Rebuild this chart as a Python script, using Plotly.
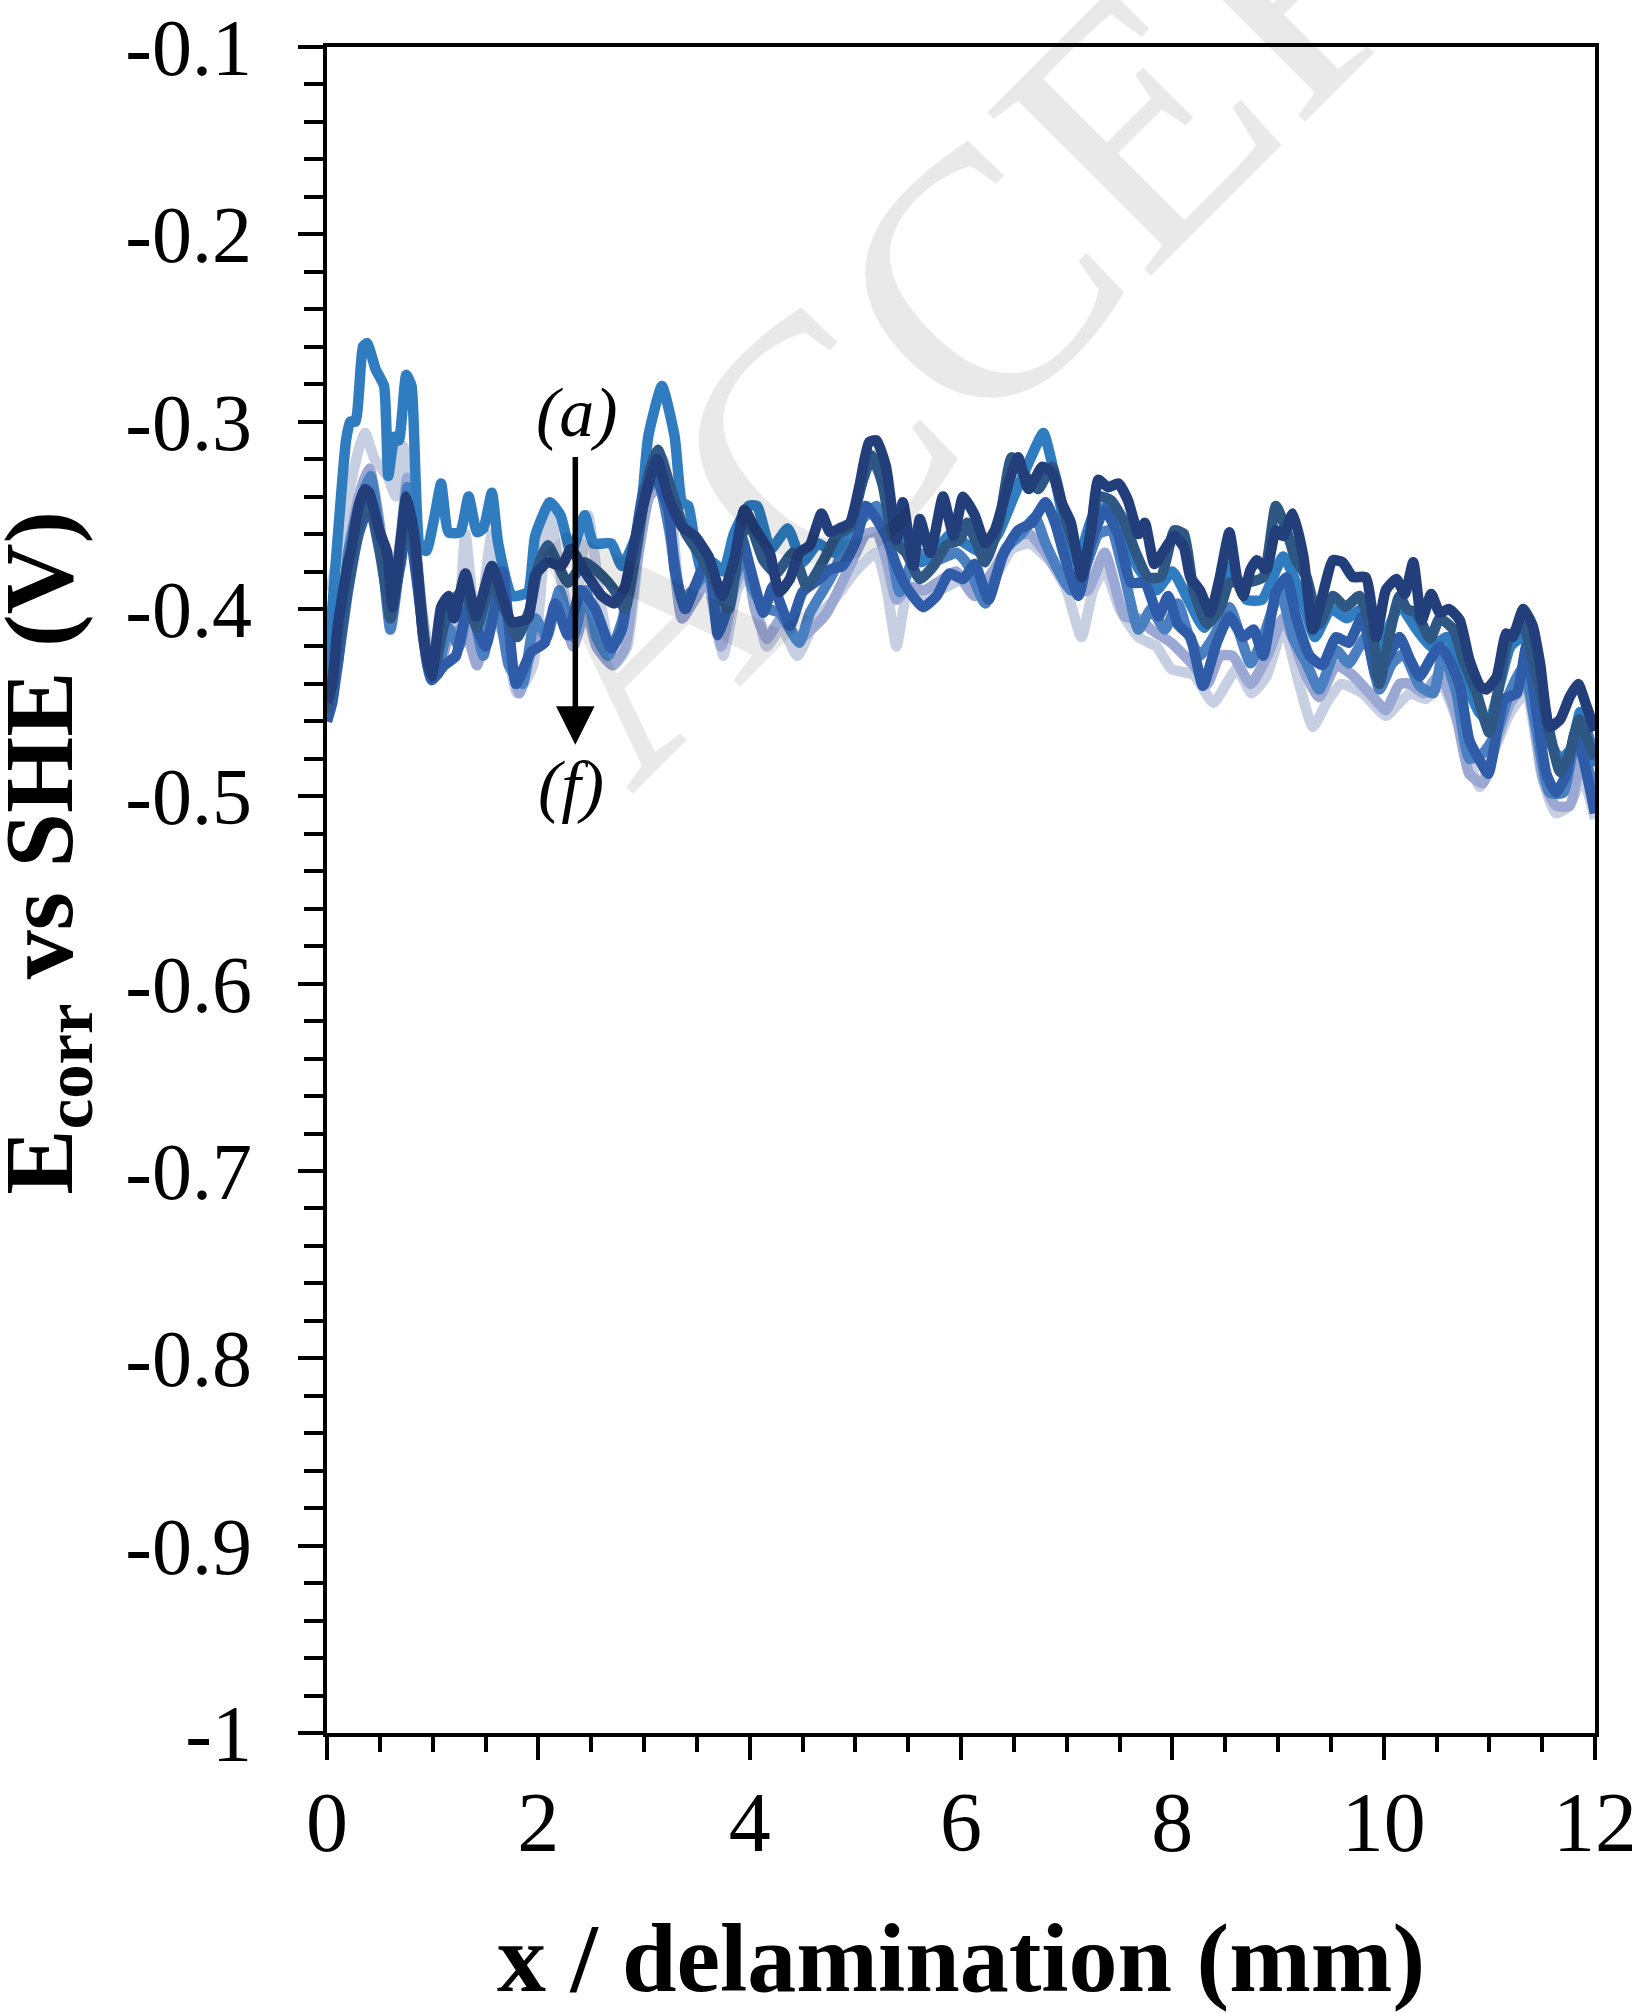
import plotly.graph_objects as go

# ---- tick labels -------------------------------------------------------
x_tick_vals = [0, 2, 4, 6, 8, 10, 12]
x_tick_text = ["0", "2", "4", "6", "8", "10", "12"]
y_tick_vals = [-1.0, -0.9, -0.8, -0.7, -0.6, -0.5, -0.4, -0.3, -0.2, -0.1]
y_tick_text = ["-1", "-0.9", "-0.8", "-0.7", "-0.6", "-0.5", "-0.4", "-0.3", "-0.2", "-0.1"]

# ---- corrosion potential profiles (x in mm, E in V vs SHE) -------------
light_x = [0.0, 0.05, 0.1, 0.2, 0.3, 0.36, 0.45, 0.58, 0.65, 0.72,
           0.8, 0.9, 1.0, 1.12, 1.25, 1.31, 1.42, 1.56, 1.65, 1.8,
           1.95, 2.1, 2.2, 2.33, 2.47, 2.6, 2.72, 2.84, 2.95, 3.08,
           3.18, 3.28, 3.36, 3.5, 3.62, 3.75, 3.88, 4.0, 4.16, 4.3,
           4.45, 4.63, 4.8, 5.0, 5.2, 5.3, 5.39, 5.5, 5.65, 5.8,
           6.0, 6.13, 6.3, 6.48, 6.65, 6.85, 7.0, 7.14, 7.25, 7.36,
           7.5, 7.68, 7.85, 7.99, 8.2, 8.39, 8.61, 8.75, 8.89, 9.05,
           9.2, 9.33, 9.46, 9.6, 9.8, 10.02, 10.15, 10.25, 10.4, 10.55,
           10.69, 10.8, 10.91, 11.05, 11.2, 11.35, 11.5, 11.63, 11.76, 11.88,
           12.0]
light_y = [-0.39, -0.385, -0.37, -0.34, -0.315, -0.306, -0.32, -0.33, -0.34, -0.313,
           -0.34, -0.40, -0.43, -0.42, -0.40, -0.36, -0.415, -0.36, -0.40, -0.445,
           -0.43, -0.343, -0.38, -0.41, -0.35, -0.40, -0.43, -0.42, -0.37, -0.33,
           -0.32, -0.36, -0.405, -0.39, -0.38, -0.425, -0.39, -0.38, -0.42, -0.41,
           -0.425, -0.405, -0.395, -0.38, -0.37, -0.39, -0.42, -0.39, -0.395, -0.39,
           -0.385, -0.393, -0.385, -0.368, -0.365, -0.375, -0.39, -0.415, -0.39, -0.379,
           -0.40, -0.415, -0.42, -0.432, -0.435, -0.45, -0.432, -0.445, -0.436, -0.41,
           -0.44, -0.463, -0.45, -0.44, -0.445, -0.457, -0.45, -0.445, -0.448, -0.44,
           -0.459, -0.48, -0.495, -0.475, -0.455, -0.445, -0.49, -0.509, -0.505, -0.49,
           -0.512]

lavender_x = [0.0, 0.1, 0.2, 0.3, 0.4, 0.5, 0.6, 0.7, 0.76, 0.85,
              0.95, 1.05, 1.15, 1.3, 1.42, 1.55, 1.7, 1.82, 1.95, 2.08,
              2.2, 2.33, 2.45, 2.55, 2.7, 2.82, 2.92, 3.05, 3.15, 3.27,
              3.36, 3.48, 3.6, 3.73, 3.85, 3.96, 4.05, 4.16, 4.3, 4.47,
              4.6, 4.73, 4.95, 5.1, 5.2, 5.3, 5.39, 5.51, 5.65, 5.8,
              5.95, 6.13, 6.3, 6.51, 6.65, 6.8, 7.04, 7.2, 7.36, 7.55,
              7.68, 7.8, 7.99, 8.2, 8.33, 8.45, 8.57, 8.74, 8.9, 9.05,
              9.27, 9.39, 9.55, 9.7, 9.9, 10.02, 10.15, 10.25, 10.38, 10.53,
              10.68, 10.81, 10.94, 11.07, 11.2, 11.35, 11.51, 11.63, 11.76, 11.87,
              11.95, 12.0]
lavender_y = [-0.44, -0.42, -0.37, -0.34, -0.325, -0.355, -0.40, -0.36, -0.33, -0.375,
              -0.43, -0.435, -0.415, -0.41, -0.43, -0.395, -0.42, -0.445, -0.42, -0.41,
              -0.395, -0.42, -0.40, -0.42, -0.43, -0.421, -0.38, -0.34, -0.335, -0.37,
              -0.405, -0.395, -0.385, -0.42, -0.39, -0.375, -0.40, -0.416, -0.405, -0.416,
              -0.41, -0.402, -0.377, -0.36, -0.359, -0.375, -0.395, -0.388, -0.39, -0.385,
              -0.38, -0.393, -0.38, -0.361, -0.36, -0.37, -0.39, -0.39, -0.37, -0.404,
              -0.405, -0.411, -0.418, -0.43, -0.44, -0.425, -0.425, -0.44, -0.425, -0.405,
              -0.436, -0.447, -0.43, -0.435, -0.447, -0.454, -0.44, -0.44, -0.445, -0.435,
              -0.455, -0.488, -0.493, -0.47, -0.45, -0.44, -0.491, -0.505, -0.505, -0.48,
              -0.495, -0.509]

medium_x = [0.0, 0.1, 0.2, 0.3, 0.41, 0.5, 0.6, 0.7, 0.76, 0.85,
            0.95, 1.05, 1.15, 1.25, 1.35, 1.48, 1.6, 1.72, 1.85, 1.97,
            2.08, 2.2, 2.33, 2.45, 2.55, 2.66, 2.8, 2.9, 3.0, 3.12,
            3.25, 3.36, 3.46, 3.6, 3.72, 3.85, 3.95, 4.02, 4.13, 4.28,
            4.47, 4.57, 4.76, 4.88, 5.07, 5.2, 5.32, 5.42, 5.58, 5.77,
            5.96, 6.06, 6.23, 6.42, 6.57, 6.7, 6.8, 6.92, 7.04, 7.17,
            7.3, 7.42, 7.55, 7.68, 7.8, 7.93, 8.05, 8.15, 8.26, 8.39,
            8.54, 8.74, 8.86, 9.02, 9.14, 9.27, 9.39, 9.55, 9.67, 9.83,
            9.96, 10.08, 10.19, 10.34, 10.47, 10.56, 10.69, 10.81, 10.94, 11.07,
            11.19, 11.32, 11.44, 11.57, 11.7, 11.83, 11.95, 12.0]
medium_y = [-0.45, -0.43, -0.37, -0.345, -0.329, -0.36, -0.411, -0.37, -0.335, -0.38,
            -0.425, -0.43, -0.41, -0.42, -0.395, -0.425, -0.39, -0.43, -0.44, -0.405,
            -0.415, -0.39, -0.415, -0.39, -0.415, -0.425, -0.405, -0.37, -0.34, -0.33,
            -0.36, -0.395, -0.39, -0.38, -0.41, -0.385, -0.37, -0.388, -0.399, -0.402,
            -0.418, -0.402, -0.384, -0.37, -0.352, -0.345, -0.363, -0.391, -0.37, -0.374,
            -0.37, -0.376, -0.397, -0.368, -0.36, -0.351, -0.365, -0.379, -0.39, -0.379,
            -0.36, -0.358, -0.383, -0.411, -0.40, -0.411, -0.397, -0.413, -0.425, -0.415,
            -0.399, -0.429, -0.415, -0.39, -0.415, -0.429, -0.443, -0.422, -0.429, -0.415,
            -0.443, -0.429, -0.424, -0.441, -0.445, -0.424, -0.445, -0.48, -0.477, -0.466,
            -0.445, -0.431, -0.463, -0.498, -0.498, -0.466, -0.488, -0.498]

bright_x = [0.0, 0.05, 0.1, 0.18, 0.22, 0.27, 0.34, 0.38, 0.46, 0.54,
            0.58, 0.64, 0.68, 0.75, 0.8, 0.88, 0.94, 1.02, 1.08, 1.15,
            1.26, 1.34, 1.42, 1.48, 1.56, 1.62, 1.75, 1.9, 1.97, 2.11,
            2.21, 2.31, 2.44, 2.52, 2.69, 2.79, 2.95, 3.04, 3.17, 3.29,
            3.36, 3.42, 3.48, 3.55, 3.65, 3.75, 3.85, 3.99, 4.07, 4.2,
            4.36, 4.5, 4.65, 4.8, 4.95, 5.05, 5.15, 5.25, 5.38, 5.5,
            5.62, 5.75, 5.9, 6.04, 6.2, 6.35, 6.5, 6.67, 6.78, 6.86,
            6.98, 7.1, 7.25, 7.4, 7.55, 7.7, 7.85, 8.0, 8.15, 8.3,
            8.45, 8.54, 8.7, 8.85, 9.05, 9.2, 9.35, 9.5, 9.65, 9.8,
            9.95, 10.05, 10.15, 10.3, 10.45, 10.6, 10.75, 10.9, 11.0, 11.1,
            11.2, 11.32, 11.45, 11.57, 11.67, 11.77, 11.86, 11.95, 12.0]
bright_y = [-0.44, -0.40, -0.363, -0.31, -0.30, -0.30, -0.26, -0.258, -0.272, -0.281,
            -0.329, -0.308, -0.31, -0.275, -0.281, -0.367, -0.369, -0.35, -0.333, -0.359,
            -0.359, -0.34, -0.359, -0.357, -0.338, -0.365, -0.393, -0.391, -0.361, -0.343,
            -0.35, -0.37, -0.35, -0.365, -0.365, -0.377, -0.357, -0.308, -0.281, -0.308,
            -0.343, -0.345, -0.365, -0.38, -0.375, -0.38, -0.36, -0.345, -0.345, -0.368,
            -0.357, -0.375, -0.365, -0.37, -0.355, -0.335, -0.32, -0.33, -0.36, -0.365,
            -0.375, -0.37, -0.36, -0.365, -0.37, -0.36, -0.34, -0.318, -0.306, -0.322,
            -0.355, -0.375, -0.35, -0.345, -0.365, -0.38, -0.39, -0.38, -0.395, -0.41,
            -0.395, -0.377, -0.395, -0.395, -0.372, -0.39, -0.415, -0.40, -0.405, -0.40,
            -0.425, -0.41, -0.398, -0.41, -0.42, -0.415, -0.435, -0.455, -0.46, -0.44,
            -0.42, -0.415, -0.44, -0.47, -0.48, -0.475, -0.455, -0.47, -0.484]

royal_x = [0.0, 0.05, 0.1, 0.2, 0.3, 0.4, 0.5, 0.6, 0.7, 0.76,
           0.85, 0.95, 0.99, 1.11, 1.22, 1.33, 1.5, 1.66, 1.79, 1.93,
           2.06, 2.16, 2.28, 2.4, 2.54, 2.69, 2.79, 2.88, 3.0, 3.1,
           3.23, 3.29, 3.39, 3.48, 3.61, 3.7, 3.8, 3.92, 4.0, 4.13,
           4.22, 4.38, 4.5, 4.66, 4.76, 4.88, 5.01, 5.1, 5.2, 5.29,
           5.39, 5.48, 5.64, 5.77, 5.89, 6.02, 6.13, 6.26, 6.39, 6.54,
           6.67, 6.8, 6.89, 6.98, 7.11, 7.23, 7.36, 7.49, 7.61, 7.74,
           7.87, 7.96, 8.05, 8.17, 8.29, 8.42, 8.54, 8.67, 8.77, 8.86,
           8.98, 9.08, 9.17, 9.3, 9.42, 9.55, 9.67, 9.8, 9.93, 10.05,
           10.15, 10.25, 10.34, 10.44, 10.53, 10.62, 10.72, 10.81, 10.91, 10.99,
           11.07, 11.14, 11.26, 11.35, 11.44, 11.54, 11.63, 11.73, 11.81, 11.89,
           12.0]
royal_y = [-0.46, -0.45, -0.43, -0.39, -0.36, -0.345, -0.37, -0.40, -0.375, -0.35,
           -0.385, -0.43, -0.438, -0.43, -0.425, -0.40, -0.42, -0.38, -0.44, -0.423,
           -0.418, -0.397, -0.414, -0.39, -0.40, -0.421, -0.411, -0.379, -0.336, -0.329,
           -0.347, -0.379, -0.40, -0.388, -0.372, -0.414, -0.397, -0.361, -0.377, -0.402,
           -0.388, -0.409, -0.391, -0.384, -0.379, -0.377, -0.363, -0.345, -0.352, -0.361,
           -0.377, -0.388, -0.399, -0.393, -0.381, -0.384, -0.376, -0.395, -0.372, -0.358,
           -0.354, -0.343, -0.354, -0.372, -0.393, -0.365, -0.347, -0.361, -0.386, -0.386,
           -0.404, -0.393, -0.408, -0.415, -0.441, -0.418, -0.404, -0.415, -0.411, -0.425,
           -0.391, -0.383, -0.404, -0.425, -0.43, -0.415, -0.418, -0.404, -0.436, -0.425,
           -0.415, -0.427, -0.436, -0.427, -0.42, -0.427, -0.441, -0.47, -0.481, -0.488,
           -0.466, -0.448, -0.445, -0.42, -0.452, -0.488, -0.498, -0.488, -0.466, -0.48,
           -0.509]

slate_x = [0.0, 0.1, 0.2, 0.3, 0.38, 0.5, 0.6, 0.7, 0.76, 0.85,
           0.95, 1.02, 1.1, 1.2, 1.3, 1.42, 1.55, 1.68, 1.8, 1.92,
           2.0, 2.09, 2.28, 2.44, 2.6, 2.72, 2.82, 2.91, 3.04, 3.13,
           3.23, 3.39, 3.54, 3.67, 3.8, 3.92, 4.0, 4.13, 4.25, 4.41,
           4.54, 4.7, 4.82, 4.95, 5.07, 5.16, 5.26, 5.36, 5.48, 5.61,
           5.74, 5.86, 5.99, 6.06, 6.23, 6.36, 6.48, 6.61, 6.73, 6.86,
           6.98, 7.08, 7.17, 7.3, 7.42, 7.55, 7.64, 7.77, 7.89, 8.02,
           8.11, 8.2, 8.33, 8.45, 8.54, 8.7, 8.86, 8.98, 9.08, 9.17,
           9.27, 9.39, 9.52, 9.64, 9.77, 9.9, 9.96, 10.05, 10.15, 10.22,
           10.31, 10.44, 10.53, 10.66, 10.75, 10.88, 11.0, 11.1, 11.19, 11.32,
           11.44, 11.57, 11.67, 11.76, 11.85, 11.95, 12.0]
slate_y = [-0.455, -0.42, -0.385, -0.355, -0.342, -0.365, -0.405, -0.37, -0.345, -0.375,
           -0.425, -0.43, -0.41, -0.395, -0.39, -0.41, -0.385, -0.40, -0.415, -0.40,
           -0.377, -0.366, -0.386, -0.375, -0.382, -0.39, -0.40, -0.375, -0.329, -0.315,
           -0.331, -0.359, -0.372, -0.386, -0.40, -0.361, -0.355, -0.374, -0.381, -0.37,
           -0.388, -0.374, -0.361, -0.356, -0.331, -0.318, -0.334, -0.363, -0.37, -0.384,
           -0.377, -0.366, -0.363, -0.354, -0.375, -0.354, -0.319, -0.329, -0.336, -0.324,
           -0.35, -0.368, -0.375, -0.34, -0.342, -0.354, -0.368, -0.383, -0.383, -0.358,
           -0.36, -0.39, -0.408, -0.40, -0.386, -0.386, -0.383, -0.345, -0.358, -0.374,
           -0.383, -0.408, -0.393, -0.399, -0.393, -0.415, -0.44, -0.415, -0.393, -0.40,
           -0.402, -0.416, -0.405, -0.411, -0.427, -0.445, -0.466, -0.438, -0.415, -0.409,
           -0.434, -0.466, -0.487, -0.477, -0.459, -0.473, -0.48]

navy_x = [0.0, 0.05, 0.1, 0.14, 0.2, 0.23, 0.3, 0.36, 0.4, 0.5,
          0.57, 0.62, 0.7, 0.75, 0.83, 0.91, 0.99, 1.08, 1.15, 1.2,
          1.31, 1.41, 1.56, 1.66, 1.75, 1.9, 1.97, 2.09, 2.22, 2.31,
          2.44, 2.6, 2.72, 2.82, 2.88, 3.0, 3.12, 3.23, 3.36, 3.48,
          3.61, 3.74, 3.86, 3.95, 4.05, 4.19, 4.28, 4.38, 4.47, 4.57,
          4.68, 4.76, 4.85, 4.95, 5.04, 5.13, 5.2, 5.29, 5.39, 5.45,
          5.55, 5.61, 5.71, 5.83, 5.93, 6.02, 6.13, 6.23, 6.32, 6.45,
          6.54, 6.64, 6.77, 6.86, 6.95, 7.04, 7.14, 7.23, 7.3, 7.39,
          7.49, 7.58, 7.68, 7.74, 7.83, 7.93, 8.02, 8.11, 8.17, 8.26,
          8.36, 8.45, 8.54, 8.61, 8.67, 8.74, 8.8, 8.89, 8.98, 9.05,
          9.14, 9.24, 9.33, 9.42, 9.52, 9.61, 9.71, 9.83, 9.93, 10.02,
          10.12, 10.2, 10.28, 10.36, 10.45, 10.53, 10.62, 10.72, 10.81, 10.91,
          10.97, 11.07, 11.16, 11.22, 11.32, 11.41, 11.48, 11.57, 11.67, 11.76,
          11.84, 11.92, 12.0]
navy_y = [-0.45, -0.44, -0.41, -0.395, -0.375, -0.368, -0.345, -0.336, -0.338, -0.359,
          -0.37, -0.399, -0.362, -0.34, -0.362, -0.415, -0.436, -0.399, -0.393, -0.405,
          -0.381, -0.404, -0.377, -0.393, -0.407, -0.405, -0.382, -0.375, -0.377, -0.368,
          -0.38, -0.393, -0.397, -0.388, -0.372, -0.343, -0.32, -0.34, -0.356, -0.361,
          -0.372, -0.393, -0.372, -0.347, -0.357, -0.37, -0.391, -0.384, -0.37, -0.366,
          -0.349, -0.359, -0.357, -0.354, -0.334, -0.311, -0.31, -0.324, -0.363, -0.343,
          -0.377, -0.352, -0.37, -0.34, -0.361, -0.34, -0.35, -0.365, -0.358, -0.333,
          -0.319, -0.336, -0.324, -0.327, -0.343, -0.354, -0.383, -0.358, -0.331, -0.335,
          -0.333, -0.342, -0.36, -0.354, -0.376, -0.368, -0.361, -0.367, -0.383, -0.39,
          -0.402, -0.383, -0.359, -0.383, -0.393, -0.379, -0.374, -0.379, -0.358, -0.361,
          -0.349, -0.372, -0.411, -0.393, -0.374, -0.375, -0.383, -0.383, -0.415, -0.39,
          -0.384, -0.392, -0.375, -0.406, -0.392, -0.402, -0.40, -0.406, -0.427, -0.441,
          -0.443, -0.436, -0.413, -0.415, -0.40, -0.409, -0.429, -0.463, -0.459, -0.447,
          -0.44, -0.452, -0.465]

# drawing order: lightest underneath, darkest on top
series = [
    ("light", light_x, light_y, "#c7cfe3"),
    ("lavender", lavender_x, lavender_y, "#9ca8d4"),
    ("medium", medium_x, medium_y, "#4a80c1"),
    ("bright", bright_x, bright_y, "#2f7dc0"),
    ("royal", royal_x, royal_y, "#2f5ca8"),
    ("slate", slate_x, slate_y, "#2f5783"),
    ("navy", navy_x, navy_y, "#223f7b"),
]

for name, xs, ys, _ in series:
    if len(xs) != len(ys):
        raise ValueError(f"{name}: {len(xs)} x values vs {len(ys)} y values")

SERIF = "Liberation Serif"

fig = go.Figure()
for name, xs, ys, color in series:
    fig.add_trace(go.Scatter(
        x=xs, y=ys, mode="lines", name=name,
        line=dict(color=color, width=10.5, shape="spline", smoothing=0.5),
        hoverinfo="skip",
    ))

axis_common = dict(
    ticks="outside", tickwidth=3.5, tickcolor="black",
    showline=True, linewidth=4, linecolor="black", mirror=True,
    showgrid=False, zeroline=False, automargin=False,
)

fig.update_xaxes(
    range=[0, 12], tickmode="array", tickvals=x_tick_vals, ticktext=x_tick_text,
    ticklen=23, ticklabelstandoff=-10, ticklabeloverflow="allow",
    tickfont=dict(family=SERIF, size=84, color="black"),
    minor=dict(tickmode="linear", tick0=0, dtick=0.5, ticks="outside",
               ticklen=15, tickwidth=3.5, tickcolor="black", showgrid=False),
    title=dict(text="<b>x / delamination (mm)</b>",
               font=dict(family=SERIF, size=98, color="black"), standoff=56),
    **axis_common,
)
fig.update_yaxes(
    range=[-1.0, -0.1], tickmode="array", tickvals=y_tick_vals, ticktext=y_tick_text,
    ticklen=25, ticklabelstandoff=30,
    tickfont=dict(family=SERIF, size=80, color="black"),
    minor=dict(tickmode="linear", tick0=-1.0, dtick=0.02, ticks="outside",
               ticklen=19, tickwidth=3.5, tickcolor="black", showgrid=False),
    **axis_common,
)

annotations = [
    # y-axis title
    dict(text="<b>E<sub>corr</sub> vs SHE (V)</b>", xref="paper", yref="paper",
         x=-0.221, y=0.522, xanchor="center", yanchor="middle", textangle=-90,
         showarrow=False, font=dict(family=SERIF, size=98, color="black")),
    # manuscript watermark
    dict(text="ACCEPTED MANUSCRIPT", xref="paper", yref="paper",
         x=1.341, y=1.484, xanchor="center", yanchor="middle", textangle=-45,
         showarrow=False, font=dict(family=SERIF, size=353, color="rgba(0,0,0,0.085)")),
    # series order arrow (a) -> (f)
    dict(x=2.35, y=-0.4724, ax=2.35, ay=-0.318, xref="x", yref="y",
         axref="x", ayref="y", text="", showarrow=True,
         arrowhead=2, arrowsize=1.4, arrowwidth=5.5, arrowcolor="black", standoff=0),
    dict(text="<i>(a)</i>", x=2.37, y=-0.295, xref="x", yref="y", showarrow=False,
         font=dict(family=SERIF, size=70, color="black")),
    dict(text="<i>(f)</i>", x=2.31, y=-0.494, xref="x", yref="y", showarrow=False,
         font=dict(family=SERIF, size=70, color="black")),
]

fig.update_layout(
    width=1632, height=2013,
    margin=dict(l=327, r=37, t=47, b=280, pad=0, autoexpand=False),
    plot_bgcolor="white", paper_bgcolor="white",
    showlegend=False,
    font=dict(family=SERIF, color="black"),
    annotations=annotations,
)

fig.write_html("out.html")
